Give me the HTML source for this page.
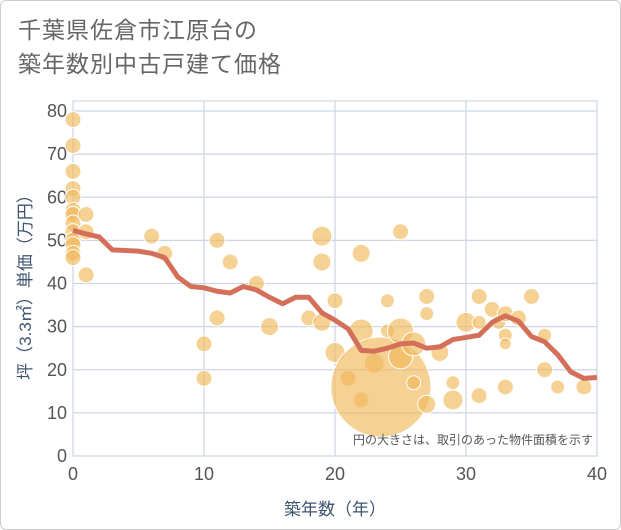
<!DOCTYPE html>
<html><head><meta charset="utf-8"><style>
body{margin:0;background:#fff;}
.wrap{width:621px;height:530px;position:relative;background:#fff;border:1px solid #ccc;box-sizing:border-box;border-radius:6px;overflow:hidden;font-family:"Liberation Sans","Noto Sans CJK JP",sans-serif;}
.title{position:absolute;left:17px;top:12px;font-size:23px;line-height:34px;color:#666;letter-spacing:1px;}
</style></head><body>
<div class="wrap">
<div class="title">千葉県佐倉市江原台の<br>築年数別中古戸建て価格</div>
<svg id="chart" width="621" height="530" style="position:absolute;left:0;top:0"></svg>
</div>
<script>
const xTicks=[0,10,20,30,40];
const yTicks=[0,10,20,30,40,50,60,70,80];
const lineX=[0,1,2,3,5,6,7,8,9,10,11,12,13,14,15,16,17,18,19,20,21,22,23,24,25,26,27,28,29,30,31,32,33,34,35,36,37,38,39,40];
const lineY=[52.3,51.5,50.8,47.8,47.5,47,46,41.5,39.3,39,38.2,37.8,39.3,38.5,36.8,35.3,36.8,36.8,33.2,31.5,29.5,24.5,24.3,25,26,26.2,25,25.3,27,27.5,28,31,32.5,31.3,27.7,26.5,23.5,19.5,18,18.2];
const bubX=[0,0,0,0,0,0,0,0,0,0,0,0,0,1,1,1,6,7,10,10,11,11,12,14,15,18,19,19,19,20,20,21,22,22,22,23,23.5,24,24,25,25,25,26,26,27,27,27,28,29,29,30,31,31,31,32,32.5,33,33,33,33,34,35,36,36,37,39];
const bubY=[78,72,66,62,60,57,56,54,52,50,49,47,46,56,52,42,51,47,26,18,50,32,45,40,30,32,51,45,31,36,24,18,47,29,13,21.5,16,36,29,23,29,52,26,17,37,33,12,24,17,13,31,37,31,14,34,31,33,28,26,16,32,37,28,20,16,16];
const bubR=[8,8,8,8,8,8,8,8,8,8,8,8,8,8,8,8,8,8,8,8,8,8,8,8,9,8,10,9,9,8,10,8,9,12,8,10,50,7,7,12,13,8,12,7,8,7,9,9,7,10,10,8,7,8,8,7,8,7,6,8,8,8,7,8,7,8];
const X0=72,X1=596,Y0=455,Y1=110;
const sx=v=>X0+(v-0)/40*(X1-X0);
const sy=v=>Y0-(v/80)*(Y0-Y1);
const svg=document.getElementById('chart');
const NS='http://www.w3.org/2000/svg';
function mk(t,a){const e=document.createElementNS(NS,t);for(const k in a)e.setAttribute(k,a[k]);svg.appendChild(e);return e;}
let bg=mk('rect',{x:X0,y:100,width:X1-X0,height:Y0-100,fill:'#fff',stroke:'#c7d0dc'});


yTicks.forEach(t=>{
 const l=mk('line',{x1:X0,x2:X1,y1:sy(t),y2:sy(t),stroke:'#cdd6e2','stroke-width':1.2});
 
 
 const tx=mk('text',{x:X0-6,y:sy(t)+6,'text-anchor':'end','font-size':18,fill:'#555'});
 tx.textContent=t;
 
 
});
xTicks.forEach(t=>{
 const l=mk('line',{x1:sx(t),x2:sx(t),y1:100,y2:Y0,stroke:'#cdd6e2','stroke-width':1.2});
 
 
 const tx=mk('text',{x:sx(t),y:Y0+24,'text-anchor':'middle','font-size':18,fill:'#555'});
 tx.textContent=t;
 
 
});
bubX.forEach((v,i)=>{
 const c=mk('circle',{cx:sx(v),cy:sy(bubY[i]),r:bubR[i],fill:'rgba(240,184,90,0.65)',stroke:'#fff','stroke-width':1});
 
 
});
const pl=mk('polyline',{points:lineX.map((v,i)=>sx(v)+','+sy(lineY[i])).join(' '),fill:'none',stroke:'#d4705a','stroke-width':5,'stroke-linejoin':'round'});


const note=mk('text',{x:592,y:443,'text-anchor':'end','font-size':12,fill:'#555'});
note.textContent='円の大きさは、取引のあった物件面積を示す';


const xt=mk('text',{x:(X0+X1)/2,y:514,'text-anchor':'middle','font-size':17,fill:'#3f5570'});
xt.textContent='築年数（年）';


const yt=mk('text',{x:0,y:0,'text-anchor':'middle','font-size':17,fill:'#3f5570',transform:'translate(30,282) rotate(-90)'});
yt.textContent='坪（3.3㎡）単価（万円）';


</script>
</body></html>
